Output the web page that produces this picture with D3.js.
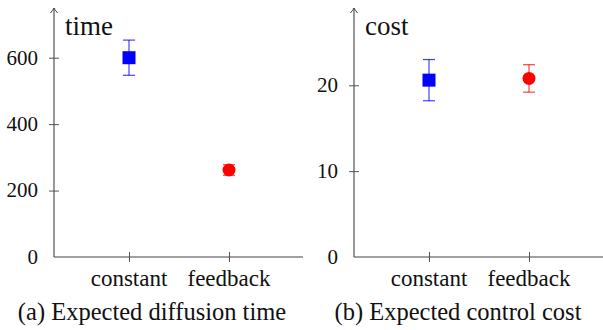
<!DOCTYPE html>
<html>
<head>
<meta charset="utf-8">
<script src="https://cdn.jsdelivr.net/npm/d3@7"></script>
<style>
  html, body { margin: 0; padding: 0; background: #fff; }
  svg { display: block; }
</style>
</head>
<body>
<svg id="chart" width="603" height="330"></svg>
<script>
// categories and values
const categories = ['constant', 'feedback'];
const colors     = ['#0000ff', '#ff0000'];
const shapes     = ['square', 'circle'];

const timeMean  = [600, 262];
const timeErr   = [53, 16];
const timeTicks = [0, 200, 400, 600];

const costMean  = [20.6, 20.8];
const costErr   = [2.4, 1.6];
const costTicks = [0, 10, 20];

const FONT = 'Liberation Serif';

const panels = [
  {x0: 54,  xEnd: 303, label: 'time', caption: '(a) Expected diffusion time',
   mean: timeMean, err: timeErr, ticks: timeTicks, top: 600, topY: 57.7, capX: 152},
  {x0: 354, xEnd: 603, label: 'cost', caption: '(b) Expected control cost',
   mean: costMean, err: costErr, ticks: costTicks, top: 20, topY: 85.3, capX: 458}
];

const svg = d3.select('#chart');
const y0 = 257, axisTop = 8;

function label(x, y, s, size, anchor, dy) {
  return svg.append('text')
    .attr('x', x).attr('y', y)
    .attr('dy', dy || null)
    .attr('text-anchor', anchor || 'start')
    .attr('font-size', size)
    .attr('font-family', FONT)
    .attr('fill', '#111')
    .text(s);
}

panels.forEach(p => {
  const g = svg.append('g');
  const y = d3.scaleLinear().domain([0, p.top]).range([y0, p.topY]);
  const x = d3.scalePoint().domain(categories).range([p.x0 + 75, p.x0 + 175]);

  // y axis, ticks cross the line
  const ya = g.append('g').attr('transform', `translate(${p.x0},0)`)
    .call(d3.axisLeft(y).tickValues(p.ticks.filter(d => d !== 0)).tickSize(5).tickFormat(''));
  ya.select('.domain').remove();
  ya.selectAll('.tick line').attr('x1', 5).attr('stroke', '#555');
  ya.selectAll('.tick text').remove();

  g.append('line').attr('x1', p.x0).attr('x2', p.x0).attr('y1', y0).attr('y2', axisTop)
    .attr('stroke', '#444').attr('stroke-width', 1.1);
  g.append('path')
    .attr('d', `M${p.x0 - 3.5},${axisTop + 5} Q${p.x0 - 1},${axisTop + 2} ${p.x0},${axisTop} Q${p.x0 + 1},${axisTop + 2} ${p.x0 + 3.5},${axisTop + 5}`)
    .attr('fill', 'none').attr('stroke', '#444').attr('stroke-width', 1);

  // x axis
  const xa = g.append('g').attr('transform', `translate(0,${y0})`)
    .call(d3.axisBottom(x).tickSize(5).tickFormat(''));
  xa.select('.domain').remove();
  xa.selectAll('.tick line').attr('y1', -5).attr('stroke', '#555');
  xa.selectAll('.tick text').remove();
  g.append('line').attr('x1', p.x0).attr('x2', p.xEnd).attr('y1', y0).attr('y2', y0)
    .attr('stroke', '#444').attr('stroke-width', 1.1);

  // error bars and markers
  categories.forEach((c, i) => {
    const cx = x(c), lo = y(p.mean[i] - p.err[i]), hi = y(p.mean[i] + p.err[i]);
    const eb = g.append('g').attr('stroke', colors[i]).attr('stroke-width', 1.2).attr('stroke-opacity', 0.75);
    eb.append('line').attr('x1', cx).attr('x2', cx).attr('y1', lo).attr('y2', hi);
    eb.append('line').attr('x1', cx - 6).attr('x2', cx + 6).attr('y1', lo).attr('y2', lo);
    eb.append('line').attr('x1', cx - 6).attr('x2', cx + 6).attr('y1', hi).attr('y2', hi);
    const cy = y(p.mean[i]);
    if (shapes[i] === 'square') {
      g.append('rect').attr('x', cx - 6.5).attr('y', cy - 6.5).attr('width', 13).attr('height', 13)
        .attr('fill', colors[i]);
    } else {
      g.append('circle').attr('cx', cx).attr('cy', cy).attr('r', 6.5).attr('fill', colors[i]);
    }
  });
});

// all texts last, directly on the svg
panels.forEach(p => {
  const y = d3.scaleLinear().domain([0, p.top]).range([y0, p.topY]);
  const x = d3.scalePoint().domain(categories).range([p.x0 + 75, p.x0 + 175]);
  p.ticks.forEach(v => label(p.x0 - 16, y(v), d3.format('d')(v), 21, 'end', '0.33em'));
  categories.forEach(c => label(x(c), 286, c, 23, 'middle'));
  label(p.x0 + 11, 35, p.label, 27);
  label(p.capX, 320, p.caption, 24.5, 'middle');
});
</script>
</body>
</html>
